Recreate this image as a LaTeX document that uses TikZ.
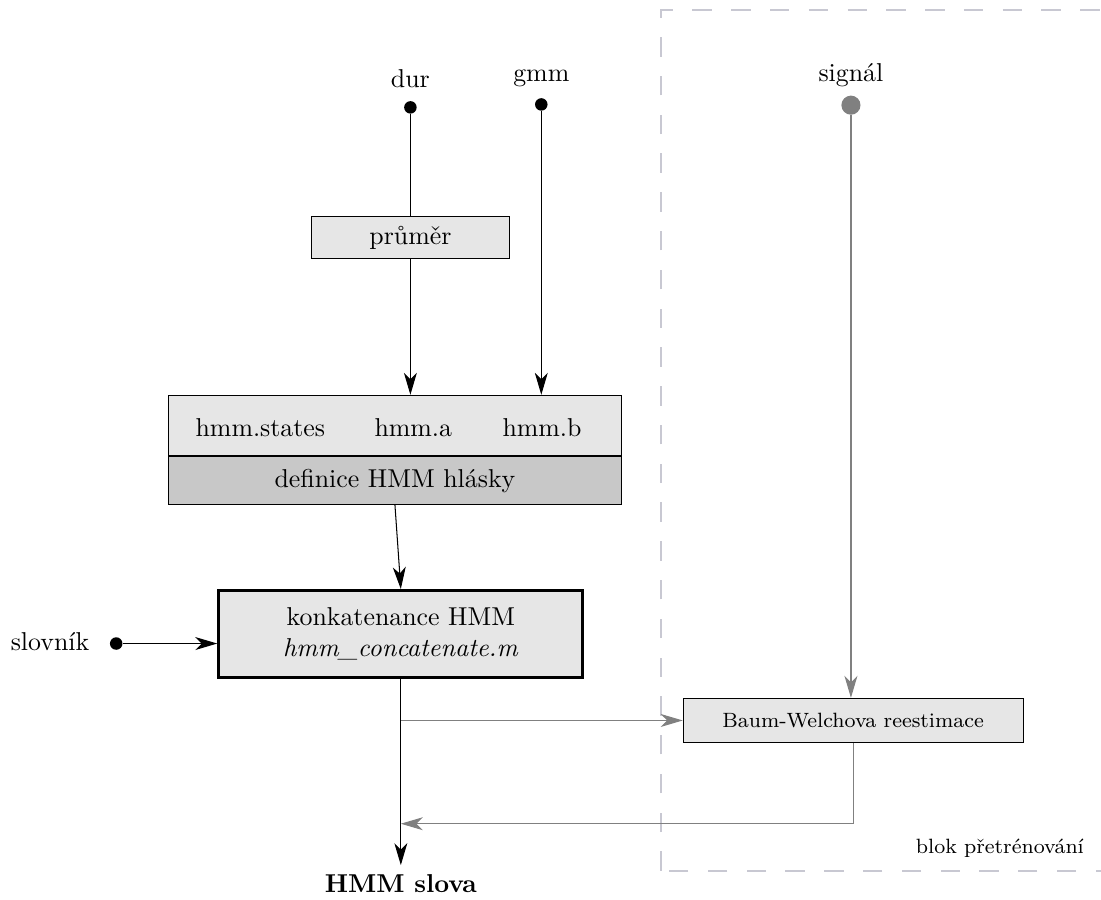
\documentclass[tikz,border=0pt]{standalone}
\usepackage{fontspec}
\definecolor{hmmlight}{HTML}{E6E6E6}
\definecolor{hmmdark}{HTML}{C8C8C8}
\definecolor{hmmgray}{HTML}{808080}
\definecolor{hmmdash}{HTML}{C8C8D2}
\usetikzlibrary{arrows.meta, positioning}

\begin{document}
\begin{tikzpicture}[
  box/.style={draw, fill=hmmlight, align=center},
  pin/.style={circle, fill, inner sep=0pt, minimum size=0.17cm},
  arr/.style={-{Stealth[length=8.5pt, width=5pt, inset=2.5pt]}},
  feed/.style={hmmgray, arr}
]
  \useasboundingbox (0,0) rectangle (14.97,12.23);
  % blok pretrenovani
  \draw[hmmdash, line width=0.8pt, dash pattern=on 7.5pt off 7.5pt] (8.99,0.39) rectangle (15.4,12.09);
  \node[font=\footnotesize, anchor=east] (blk) at (14.86,0.69) {blok přetrénování};

  % vstupy
  \node (dur) at (5.58,11.16) {dur};
  \node[pin] (durpin) at (5.58,10.77) {};
  \node (gmm) at (7.36,11.16) {gmm};
  \node[pin] (gmmpin) at (7.36,10.81) {};
  \node (sig) at (11.57,11.21) {signál};
  \node[pin, hmmgray, minimum size=0.26cm] (sigpin) at (11.57,10.80) {};
  \node (slov) at (0.68,3.50) {slovník};
  \node[pin] (slovpin) at (1.58,3.48) {};

  % bloky
  \node[box, minimum width=2.69cm, minimum height=0.57cm] (prumer) at (5.58,9.00) {průměr};
  \node[box, minimum width=6.17cm, minimum height=0.82cm] (hmmtop) at (5.37,6.445) {};
  \node[box, fill=hmmdark, minimum width=6.17cm, minimum height=0.65cm, anchor=north] (hmmdef) at (hmmtop.south) {definice HMM hlásky};
  \node (states) at (3.54,6.41) {hmm.states};
  \node (hmma) at (5.62,6.41) {hmm.a};
  \node (hmmb) at (7.37,6.41) {hmm.b};
  \node[box, very thick, minimum width=4.95cm, minimum height=1.18cm] (konk) at (5.45,3.61) {konkatenance HMM\\\textit{hmm\_concatenate.m}};
  \node[box, font=\footnotesize, minimum width=4.62cm, minimum height=0.6cm] (baum) at (11.60,2.434) {Baum-Welchova reestimace};
  \node[font=\bfseries] (out) at (5.45,0.22) {HMM slova};
  \coordinate (back) at (5.45,1.03);

  % spoje
  \draw (durpin) -- (prumer);
  \draw[arr] (prumer) -- (prumer |- hmmtop.north);
  \draw[arr] (gmmpin) -- (gmmpin |- hmmtop.north);
  \draw[arr] (hmmdef.south) -- (konk.north);
  \draw[arr] (slovpin) -- (slovpin -| konk.west);
  \draw[arr] (konk.south) -- (out.north);
  \draw[feed] (konk.south |- baum.west) -- (baum.west);
  \draw[feed, line width=0.8pt] (sigpin) -- (sigpin |- baum.north);
  \draw[feed] (baum.south) |- (back);
\end{tikzpicture}
\end{document}
